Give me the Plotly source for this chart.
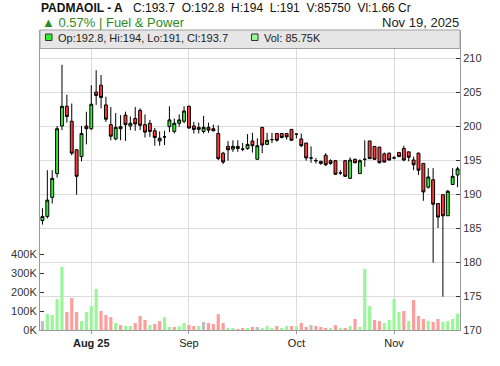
import numpy as np
import pandas as pd
import plotly.graph_objects as go

# DSE sessions run Sunday-Thursday; exchange holidays in the window are removed
dates = pd.bdate_range("2025-07-20", "2025-11-19", freq="C",
                       weekmask="Sun Mon Tue Wed Thu",
                       holidays=["2025-08-05", "2025-10-01", "2025-10-02"])

open_ = [186.1, 186.7, 189.5, 193.0, 200.0, 202.9, 200.7, 196.5, 195.5, 200.0,
         199.6, 205.0, 206.0, 203.1, 200.2, 198.1, 199.9, 201.6, 200.0, 201.1,
         202.3, 200.2, 200.4, 199.3, 197.8, 198.4, 199.9, 199.2, 200.4, 200.7,
         202.9, 200.0, 199.5, 199.2, 199.8, 199.6, 198.9, 196.0, 197.0, 196.6,
         197.0, 196.6, 196.7, 197.8, 195.1, 199.8, 197.3, 198.0, 198.9, 198.9,
         198.9, 199.5, 198.8, 198.1, 197.5, 195.3, 194.9, 194.8, 195.7, 194.9,
         194.9, 193.1, 194.9, 192.3, 195.1, 193.0, 195.1, 197.8, 197.0, 196.9,
         195.9, 196.0, 195.3, 196.1, 196.7, 196.2, 195.0, 196.0, 194.5, 191.0,
         192.1, 188.6, 189.9, 186.8, 191.4, 192.8]
high = [187.9, 193.5, 193.5, 200.0, 209.0, 204.6, 203.3, 196.6, 200.0, 202.1,
        206.0, 208.2, 207.5, 204.3, 202.8, 201.9, 201.6, 202.1, 201.4, 202.8,
        202.6, 201.7, 200.9, 199.7, 199.2, 199.3, 202.9, 201.1, 201.7, 202.9,
        203.0, 200.6, 200.5, 201.5, 200.5, 200.2, 200.1, 196.2, 197.8, 197.9,
        197.9, 197.5, 198.8, 199.0, 198.2, 199.8, 199.0, 199.0, 198.9, 198.9,
        198.9, 199.5, 198.9, 198.9, 197.5, 197.0, 195.3, 194.9, 196.0, 195.1,
        195.0, 193.5, 195.0, 195.4, 195.2, 195.1, 197.9, 197.8, 197.0, 196.9,
        196.1, 196.1, 195.6, 196.2, 197.1, 196.2, 195.5, 196.1, 194.5, 193.8,
        193.8, 188.6, 189.9, 190.6, 193.8, 194.0]
low = [185.5, 186.4, 188.6, 192.4, 199.4, 200.5, 195.7, 189.9, 194.8, 197.3,
       199.4, 203.1, 202.6, 200.6, 197.9, 197.9, 197.9, 197.8, 199.4, 199.3,
       199.4, 198.3, 198.4, 197.1, 197.1, 197.2, 199.1, 198.9, 199.9, 200.4,
       199.6, 198.9, 198.9, 198.9, 199.0, 199.2, 195.0, 194.4, 194.9, 196.2,
       196.2, 196.3, 196.5, 196.1, 195.1, 196.0, 197.2, 197.5, 197.7, 198.2,
       198.0, 197.8, 198.2, 196.9, 194.9, 194.6, 194.5, 194.3, 194.1, 194.3,
       192.8, 192.8, 192.5, 192.2, 194.5, 193.0, 194.0, 195.2, 195.1, 194.5,
       194.6, 194.9, 195.1, 195.5, 194.8, 194.8, 193.5, 192.8, 189.0, 190.8,
       179.9, 185.0, 174.9, 186.8, 191.3, 191.0]
close = [186.7, 189.1, 192.3, 199.6, 202.9, 201.4, 196.0, 192.6, 198.9, 199.6,
         203.2, 204.5, 204.2, 201.0, 198.5, 199.8, 199.6, 200.2, 200.4, 200.3,
         200.1, 199.1, 199.2, 198.3, 198.2, 198.4, 200.9, 200.4, 200.9, 202.2,
         199.7, 199.5, 199.8, 199.8, 199.4, 199.3, 195.2, 194.7, 196.5, 197.0,
         196.7, 196.6, 197.3, 197.1, 197.1, 197.2, 197.9, 198.0, 197.9, 198.3,
         198.4, 197.9, 198.8, 197.1, 195.3, 195.3, 194.9, 194.5, 194.3, 194.5,
         192.9, 193.1, 192.6, 195.0, 194.6, 194.9, 195.1, 195.2, 195.1, 194.6,
         194.7, 195.0, 195.3, 195.5, 195.0, 195.4, 194.3, 193.5, 190.3, 192.5,
         188.5, 186.6, 186.8, 190.4, 192.6, 193.7]
volume = [47000, 84000, 79000, 163000, 333000, 95000, 168000, 95000, 47000, 95000,
          126000, 216000, 100000, 79000, 68000, 37000, 26000, 21000, 21000, 37000,
          74000, 53000, 26000, 32000, 47000, 68000, 16000, 16000, 20000, 37000,
          26000, 21000, 21000, 42000, 37000, 32000, 84000, 37000, 11000, 11000,
          5000, 11000, 11000, 16000, 16000, 11000, 21000, 11000, 21000, 11000,
          21000, 21000, 21000, 37000, 16000, 26000, 21000, 16000, 11000, 11000,
          26000, 11000, 11000, 21000, 58000, 16000, 321000, 126000, 53000, 47000,
          37000, 53000, 163000, 95000, 100000, 47000, 158000, 74000, 58000, 47000,
          42000, 58000, 42000, 47000, 58000, 85750]

vol_ticks = [0, 100000, 200000, 300000, 400000]
vol_tick_text = ["0K", "100K", "200K", "300K", "400K"]
price_ticks = [170, 175, 180, 185, 190, 195, 200, 205, 210]

UP, DOWN = "#33ee33", "#ff3838"
VOL_UP, VOL_DOWN, VOL_FLAT = "#99f799", "#ff9c9c", "#bfbfbf"

x = np.arange(len(dates))
closes = np.array(close)
chg = np.diff(closes, prepend=np.nan)
vol_colors = [VOL_UP if c > 1e-9 else VOL_DOWN if c < -1e-9 else VOL_FLAT for c in chg]

# month ticks on the first session of each month
month_first = [i for i in range(1, len(dates)) if dates[i].month != dates[i - 1].month]
tick_text = []
for k, i in enumerate(month_first):
    lbl = dates[i].strftime("%b")
    tick_text.append(f"<b>{lbl} {dates[i].strftime('%y')}</b>" if k == 0 else lbl)

fig = go.Figure()
fig.add_trace(go.Bar(x=x, y=volume, marker=dict(color=vol_colors, line=dict(width=0)),
                     width=0.65, yaxis="y", hoverinfo="skip"))
fig.add_trace(go.Candlestick(
    x=x, open=open_, high=high, low=low, close=close, yaxis="y2",
    increasing=dict(fillcolor=UP, line=dict(color="black", width=1)),
    decreasing=dict(fillcolor=DOWN, line=dict(color="black", width=1)),
    whiskerwidth=0))

FONT = "Liberation Sans, Arial, sans-serif"
L, R, T, B = 40, 40, 30, 36
W, H = 500, 366
PW, PH = W - L - R, H - T - B


def px(xp):
    return (xp - L) / PW


def py(yp):
    return (H - B - yp) / PH


def note(text, xp, yp, size, color="#222", xanchor="left"):
    fig.add_annotation(text=text, x=px(xp), y=py(yp), xref="paper", yref="paper",
                       xanchor=xanchor, yanchor="middle", showarrow=False,
                       font=dict(family=FONT, size=size, color=color), borderpad=0)


sp = "\u00a0\u00a0"
last = len(close) - 1
note("<b>PADMAOIL - A</b>", 40, 7.5, 12, "#111")
note(f"C:{close[last]}{sp}O:{open_[last]}{sp}H:{high[last]:g}{sp}L:{low[last]:g}{sp}"
     f"V:{volume[last]}{sp}Vl:1.66 Cr", 132, 7.5, 12, "#111")
pct = (close[last] - close[last - 1]) / close[last - 1] * 100
note(f"\u25b2 {pct:.2f}% | Fuel & Power", 41, 22, 13, "#2e8b22")
note(dates[last].strftime("%b %d, %Y").replace(" 0", " "), 460, 22, 13, "#222", "right")

# legend strip across the top of the plot area
fig.add_shape(type="rect", xref="paper", yref="paper", x0=0, x1=1, y0=py(48.5), y1=py(30),
              fillcolor="#e6e6e6", line=dict(color="#a0a0a0", width=1), layer="above")
fig.add_shape(type="rect", xref="paper", yref="paper", x0=px(45.5), x1=px(52), y0=py(40.5),
              y1=py(34), fillcolor=UP, line=dict(color="#333", width=1), layer="above")
fig.add_shape(type="rect", xref="paper", yref="paper", x0=px(251.5), x1=px(258), y0=py(40.5),
              y1=py(34), fillcolor=VOL_UP, line=dict(color="#333", width=1), layer="above")
note(f"Op:{open_[last]}, Hi:{high[last]:g}, Lo:{low[last]:g}, Cl:{close[last]}", 57, 37.5, 11, "#222")
note(f"Vol: {volume[last] / 1000:.2f}K", 263, 37.5, 11, "#222")

fig.update_layout(
    width=W, height=H, margin=dict(l=L, r=R, t=T, b=B),
    paper_bgcolor="white", plot_bgcolor="white", showlegend=False,
    font=dict(family=FONT, size=11, color="#333"),
    xaxis=dict(range=[-0.5, len(x) - 0.5], tickvals=month_first, ticktext=tick_text,
               showgrid=True, gridcolor="#dcdcdc", gridwidth=1, zeroline=False,
               showline=True, linecolor="#999", linewidth=1,
               ticks="outside", ticklen=3, tickcolor="#999",
               tickfont=dict(size=11, color="#222"), rangeslider=dict(visible=False)),
    yaxis=dict(side="left", range=[0, PH / 0.19 * 1000], tickvals=vol_ticks,
               ticktext=vol_tick_text, showgrid=False, zeroline=False,
               showline=True, linecolor="#999", linewidth=1,
               ticks="inside", ticklen=4, tickcolor="#333",
               tickfont=dict(size=11, color="#333")),
    yaxis2=dict(side="right", overlaying="y", range=[170, 170 + PH / 6.8],
                tickvals=price_ticks, showgrid=True, gridcolor="#dcdcdc", gridwidth=1,
                zeroline=False, showline=True, linecolor="#999", linewidth=1,
                ticks="inside", ticklen=4, tickcolor="#333",
                tickfont=dict(size=11, color="#333")),
    bargap=0.3,
    boxgap=0.15,
)

fig.write_html("out.html")
